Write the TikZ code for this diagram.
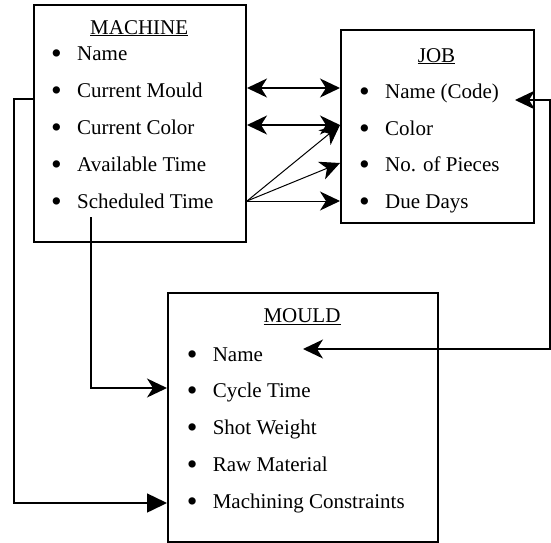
\documentclass[tikz,border=0pt]{standalone}
\usepackage{graphicx}
\usepackage{fontspec}
\setmainfont{Liberation Serif}
\usetikzlibrary{arrows.meta}
% enlarged bullet in front of each attribute
\newcommand{\bul}{\makebox[26pt][l]{\raisebox{-3.3pt}{\scalebox{1.45}{\textbullet}}}}

\begin{document}
\begin{tikzpicture}[x=1pt,y=-1pt,
  box/.style={draw, line width=2pt, rectangle, inner sep=0pt, anchor=north west},
  title/.style={anchor=base, inner sep=0pt, font=\fontsize{21}{25}\selectfont},
  item/.style={anchor=base west, inner sep=0pt, font=\fontsize{21}{25}\selectfont},
  link/.style={line width=1.5pt},
  fan/.style={line width=1pt},
  >={Stealth[length=20pt,width=19pt,inset=6pt]},
]
\useasboundingbox (0,0) rectangle (551,542);

% entity boxes
\node[box, minimum width=211.6pt, minimum height=236.7pt] (machine) at (33.4,4) {};
\node[box, minimum width=193pt, minimum height=193pt] (job) at (340,29) {};
\node[box, minimum width=270pt, minimum height=248.5pt] (mould) at (167,292) {};

% MACHINE attributes
\node[title] (mt) at (139.2,34) {\underline{MACHINE}};
\node[item] (m1) at (51,60)  {\bul Name};
\node[item] (m2) at (51,97)  {\bul Current Mould};
\node[item] (m3) at (51,134) {\bul Current Color};
\node[item] (m4) at (51,171) {\bul Available Time};
\node[item] (m5) at (51,208) {\bul Scheduled Time};

% JOB attributes
\node[title] (jt) at (436.5,62) {\underline{JOB}};
\node[item] (j1) at (359,98)    {\bul Name (Code)};
\node[item] (j2) at (359,135)   {\bul Color};
\node[item] (j3) at (359,171.5) {\bul No. of Pieces};
\node[item] (j4) at (359,208)   {\bul Due Days};

% MOULD attributes
\node[title] (ot) at (302,322.5) {\underline{MOULD}};
\node[item] (o1) at (186.6,361)   {\bul Name};
\node[item] (o2) at (186.6,397.5) {\bul Cycle Time};
\node[item] (o3) at (186.6,434)   {\bul Shot Weight};
\node[item] (o4) at (186.6,471)   {\bul Raw Material};
\node[item] (o5) at (186.6,508)   {\bul Machining Constraints};

% connector levels and bends
\coordinate (yMould)  at (0,88);
\coordinate (yColor)  at (0,125);
\coordinate (yPieces) at (0,163);
\coordinate (ySched)  at (0,201);
\coordinate (lTop) at (14,99);
\coordinate (lBot) at (14,503);
\coordinate (sTop) at (91,217);
\coordinate (sBot) at (91,388);
\coordinate (jTip) at (515,100);
\coordinate (rTop) at (550,100);
\coordinate (rBot) at (550,349);
\coordinate (oTip) at (303,349);

% MACHINE <-> JOB
\draw[link, <->] (machine.east |- yMould) -- (job.west |- yMould);
\draw[link, <->] (machine.east |- yColor) -- (job.west |- yColor);
\draw[fan, ->] (machine.east |- ySched) -- (job.west |- yColor);
\draw[fan, ->] (machine.east |- ySched) -- (job.west |- yPieces);
\draw[fan, ->] (machine.east |- ySched) -- (job.west |- ySched);

% MACHINE -> MOULD
\draw[link, -{Triangle[length=20pt,width=19pt]}]
  (machine.west |- lTop) -- (lTop) -- (lBot) -- (mould.west |- lBot);
\draw[link, -{Stealth[length=20pt,width=19pt,inset=6pt]}]
  (sTop) -- (sBot) -- (mould.west |- sBot);

% JOB name <-> MOULD name
\draw[link, <->] (jTip) -- (rTop) -- (rBot) -- (oTip);
\end{tikzpicture}
\end{document}
